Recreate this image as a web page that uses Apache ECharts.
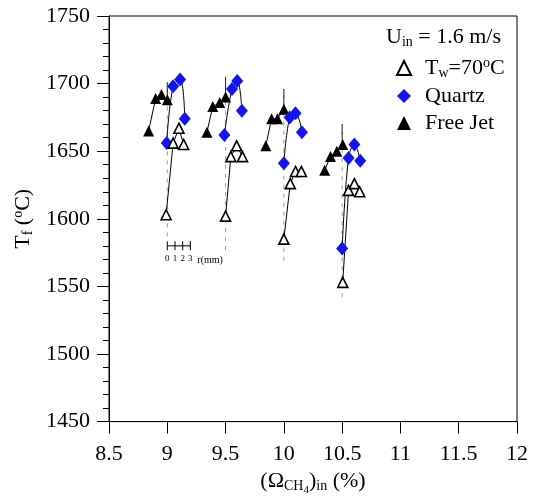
<!DOCTYPE html>
<html>
<head>
<meta charset="utf-8">
<script src="https://cdn.jsdelivr.net/npm/echarts@6/dist/echarts.min.js"></script>
<style>
    html, body { margin: 0; padding: 0; background: #fff; }
    #chart { width: 539px; height: 501px; }
</style>
</head>
<body>
<div id="chart"></div>
<script>
// four groups of four radial positions (r = 0..3 mm) each
var twX = [8.99, 9.05, 9.10, 9.14, 9.50, 9.545, 9.595, 9.645, 10.0, 10.055, 10.10, 10.15, 10.505, 10.555, 10.605, 10.65];
var twY = [1603, 1656, 1667, 1655, 1602, 1646, 1654, 1646, 1585, 1626, 1635, 1635, 1553, 1621, 1626, 1620];

var quartzX = [8.995, 9.05, 9.11, 9.15, 9.49, 9.555, 9.60, 9.64, 10.0, 10.05, 10.10, 10.155, 10.50, 10.555, 10.605, 10.655];
var quartzY = [1656, 1698, 1703, 1674, 1662, 1696, 1702, 1680, 1641, 1675, 1678, 1664, 1578, 1645, 1655, 1643];

var jetX = [8.84, 8.90, 8.95, 9.0, 9.34, 9.39, 9.45, 9.50, 9.845, 9.895, 9.945, 10.0, 10.35, 10.40, 10.455, 10.505];
var jetY = [1665, 1689, 1692, 1688, 1664, 1683, 1686, 1690, 1654, 1674, 1674, 1681, 1636, 1646, 1650, 1655];

// error bars at each group
var errX = [9.0, 9.5, 10.0, 10.5];
var errTop = [1701, 1705, 1696, 1670];
var errBottom = [1587, 1577, 1569, 1542];

// small r scale bar
var scaleR = [0, 1, 2, 3];

var serif = 'Liberation Serif';

var rich = {
    n: { fontFamily: serif, fontSize: 22, fontWeight: 'normal', color: '#000' },
    sub: { fontFamily: serif, fontSize: 14, fontWeight: 'normal', color: '#000', padding: [10, 0, 0, 0] },
    sub2: { fontFamily: serif, fontSize: 11, fontWeight: 'normal', color: '#000', padding: [18, 0, 0, 0] },
    sup: { fontFamily: serif, fontSize: 14, fontWeight: 'normal', color: '#000', padding: [0, 0, 10, 0] },
    gap: { fontFamily: serif, fontSize: 22, fontWeight: 'normal', color: '#000', padding: [0, 0, 0, 9] }
};

function groups(name, xs, ys, style) {
    var out = [];
    for (var g = 0; g < xs.length / 4; g++) {
        var pts = [];
        for (var j = 0; j < 4; j++) {
            pts.push([xs[g * 4 + j], ys[g * 4 + j]]);
        }
        out.push(Object.assign({
            name: name,
            type: 'line',
            data: pts,
            lineStyle: { color: '#000', width: 1 },
            animation: false
        }, style));
    }
    return out;
}

var series = [];

errX.forEach(function (x, i) {
    series.push({
        type: 'line', name: 'errLow', symbol: 'none', silent: true,
        data: [[x, errBottom[i]], [x, errTop[i]]],
        lineStyle: { color: '#999', width: 1, type: [4, 5] },
        animation: false, z: 1
    });
    series.push({
        type: 'line', name: 'errHigh', symbol: 'none', silent: true,
        data: [[x, jetY[i * 4 + 3]], [x, errTop[i]]],
        lineStyle: { color: '#222', width: 1 },
        animation: false, z: 1
    });
});

series = series.concat(groups('Free Jet', jetX, jetY, {
    symbol: 'triangle', symbolSize: 11,
    itemStyle: { color: '#000' }
}));
series = series.concat(groups('Quartz', quartzX, quartzY, {
    symbol: 'diamond', symbolSize: [12, 14], smooth: 0.4,
    itemStyle: { color: '#1414f0' }
}));
series = series.concat(groups('Tw', twX, twY, {
    symbol: 'triangle', symbolSize: 10,
    itemStyle: { color: '#fff', borderColor: '#000', borderWidth: 1.6 }
}));

series.push({
    type: 'line', name: 'scale', silent: true,
    data: scaleR.map(function (r) { return [9.0 + r * 0.066, 1580]; }),
    symbol: 'rect', symbolSize: [1, 9],
    itemStyle: { color: '#000' },
    lineStyle: { color: '#000', width: 1 },
    label: {
        show: true, position: 'bottom', distance: 4,
        fontFamily: serif, fontSize: 9, color: '#000',
        formatter: function (p) { return scaleR[p.dataIndex]; }
    },
    animation: false
});

var legendNames = {
    'Tw': '{gap|T}{sub|w}{n|=70}{sup|o}{n|C}',
    'Quartz': '{gap|Quartz}',
    'Free Jet': '{gap|Free Jet}'
};

var myChart = echarts.init(document.getElementById('chart'));

var option = {
    backgroundColor: '#fff',
    animation: false,
    title: {
        text: '{n|U}{sub|in}{n| = 1.6 m/s}',
        left: 381,
        top: 20,
        textStyle: { rich: rich }
    },
    legend: {
        orient: 'vertical',
        left: 391,
        top: 51,
        itemWidth: 14,
        itemHeight: 14,
        itemGap: 5,
        data: [
            { name: 'Tw', icon: 'triangle' },
            { name: 'Quartz', icon: 'diamond' },
            { name: 'Free Jet', icon: 'triangle' }
        ],
        formatter: function (name) { return legendNames[name]; },
        textStyle: { rich: rich }
    },
    grid: {
        left: 109, right: 22, top: 16, bottom: 78,
        show: true, borderColor: '#000', borderWidth: 1
    },
    xAxis: {
        type: 'value',
        min: 8.5, max: 12, interval: 0.5,
        name: '{n|(Ω}{sub|CH}{sub2|4}{n|)}{sub|in}{n| (%)}',
        nameLocation: 'middle',
        nameGap: 40,
        nameTextStyle: { rich: rich },
        axisLine: { lineStyle: { color: '#000', width: 1 } },
        axisTick: { length: 12, lineStyle: { color: '#000' } },
        axisLabel: { margin: 22, fontFamily: serif, fontSize: 22, color: '#000' },
        splitLine: { show: false }
    },
    yAxis: [{
        type: 'value',
        min: 1450, max: 1750, interval: 50,
        name: '{n|T}{sub|f}{n| (}{sup|o}{n|C)}',
        nameLocation: 'middle',
        nameRotate: 90,
        nameGap: 72,
        nameTextStyle: { rich: rich },
        axisLine: { lineStyle: { color: '#000', width: 1 } },
        axisTick: { length: 12, lineStyle: { color: '#000' } },
        axisLabel: {
            margin: 19, fontFamily: serif, fontSize: 22, color: '#000',
            formatter: function (v) { return String(v); }
        },
        splitLine: { show: false }
    }, {
        // minor ticks every 10
        type: 'value',
        position: 'left',
        min: 1450, max: 1750, interval: 10,
        axisLine: { show: false },
        axisTick: { show: true, length: 6, lineStyle: { color: '#000' } },
        axisLabel: { show: false },
        splitLine: { show: false }
    }],
    series: series
};

myChart.setOption(option);

var rPos = myChart.convertToPixel({ gridIndex: 0 }, [9.0 + 3 * 0.066, 1580]);
myChart.setOption({
    graphic: [{
        type: 'text',
        left: rPos[0] + 7,
        top: rPos[1] + 10,
        style: { text: 'r(mm)', fontFamily: serif, fontSize: 10, fill: '#000' }
    }]
});
</script>
</body>
</html>
